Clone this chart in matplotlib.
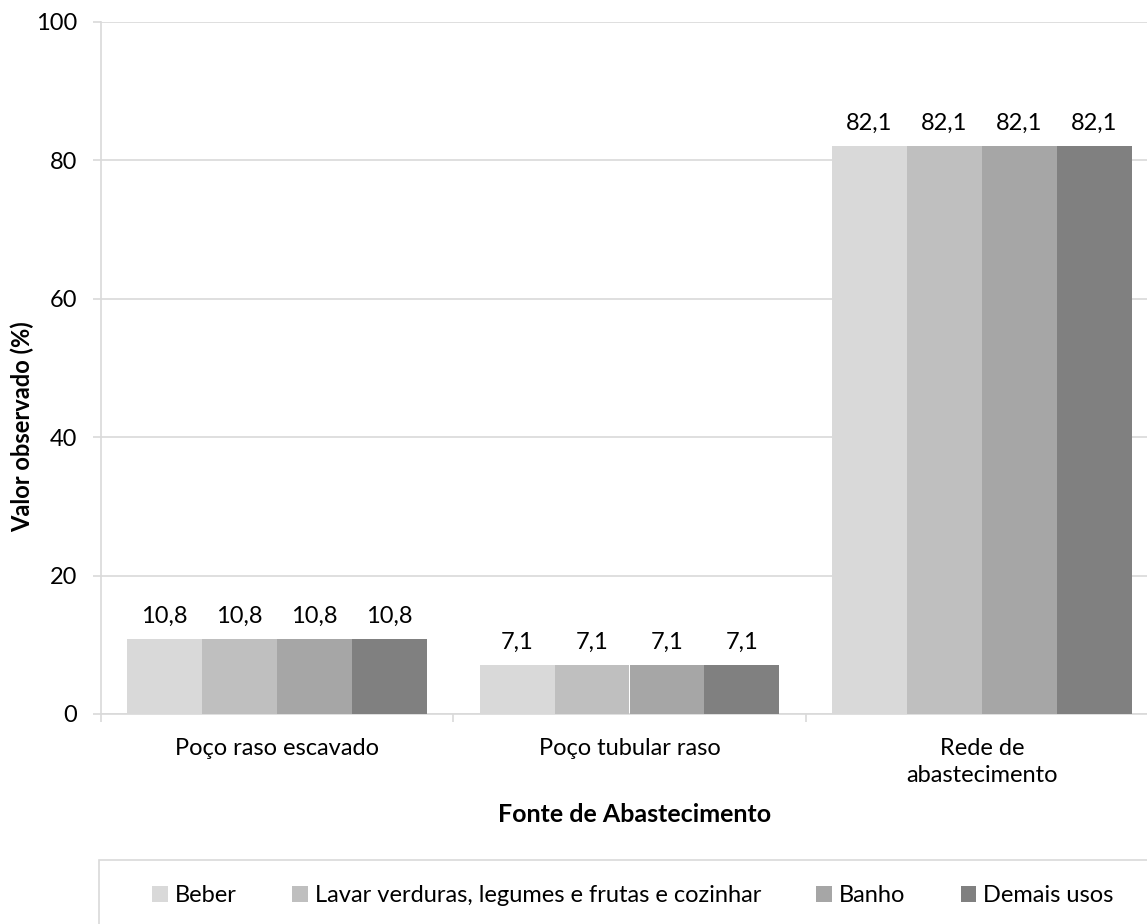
import matplotlib
matplotlib.use("Agg")
import matplotlib.pyplot as plt
from matplotlib.patches import Rectangle
import numpy as np

# dados
categorias = ["Poço raso escavado", "Poço tubular raso", "Rede de\nabastecimento"]
series = ["Beber", "Lavar verduras, legumes e frutas e cozinhar", "Banho", "Demais usos"]
beber = [10.8, 7.1, 82.1]
lavar = [10.8, 7.1, 82.1]
banho = [10.8, 7.1, 82.1]
demais = [10.8, 7.1, 82.1]
valores = [beber, lavar, banho, demais]
cores = ["#D9D9D9", "#BFBFBF", "#A6A6A6", "#808080"]
y_ticks = [0, 20, 40, 60, 80, 100]

plt.rcParams['font.family'] = ['Lato', 'DejaVu Sans']
fs = 17
W, H = 1147, 924
fig = plt.figure(figsize=(W / 100, H / 100), dpi=100)
ax = fig.add_axes([101 / W, 1 - 714 / H, 1057 / W, 692 / H])

x = np.arange(len(categorias))
largura = 75 / 352.5
for j, (nome, vals, cor) in enumerate(zip(series, valores, cores)):
    barras = ax.bar(x + (j - 1.5) * largura, vals, largura, color=cor, label=nome, zorder=3)
    ax.bar_label(barras, labels=[f"{v:.1f}".replace(".", ",") for v in vals],
                 padding=9, fontsize=fs)

ax.set_xlim(-0.5, 2.5)
ax.set_ylim(0, 100)
ax.set_yticks(y_ticks)
ax.tick_params(axis='y', length=6, width=1.2, color="#D9D9D9", pad=11, labelsize=fs)
ax.grid(axis='y', color="#D9D9D9", lw=1.2, zorder=0)

ax.set_xticks([-0.5, 0.5, 1.5, 2.5])
ax.set_xticklabels([])
ax.set_xticks(x, minor=True)
ax.set_xticklabels(categorias, minor=True, fontsize=fs, linespacing=1.35, va='top')
ax.tick_params(axis='x', which='major', length=6, width=1.2, color="#D9D9D9")
ax.tick_params(axis='x', which='minor', length=0, pad=17)

for s in ["top", "right"]:
    ax.spines[s].set_visible(False)
for s in ["left", "bottom"]:
    ax.spines[s].set_color("#D9D9D9")
    ax.spines[s].set_linewidth(1.2)

fig.text(22 / W, 1 - 427 / H, "Valor observado (%)", rotation=90, ha='center', va='center',
         fontsize=fs, fontweight='bold')
fig.text(635 / W, 1 - 814 / H, "Fonte de Abastecimento", ha='center', va='center',
         fontsize=fs + 1, fontweight='bold')

# caixa da legenda (cortada na borda como no original)
fig.patches.append(Rectangle((99 / W, 1 - 960 / H), 1100 / W, 100 / H, transform=fig.transFigure,
                             fill=False, edgecolor="#D9D9D9", lw=1.2))
fig.legend(loc='center', bbox_to_anchor=(633 / W, 1 - 896 / H), ncol=4, frameon=False,
           fontsize=fs, handlelength=0.65, handleheight=0.65, handletextpad=0.3,
           columnspacing=2.35)

fig.savefig("out.png", dpi=100)
